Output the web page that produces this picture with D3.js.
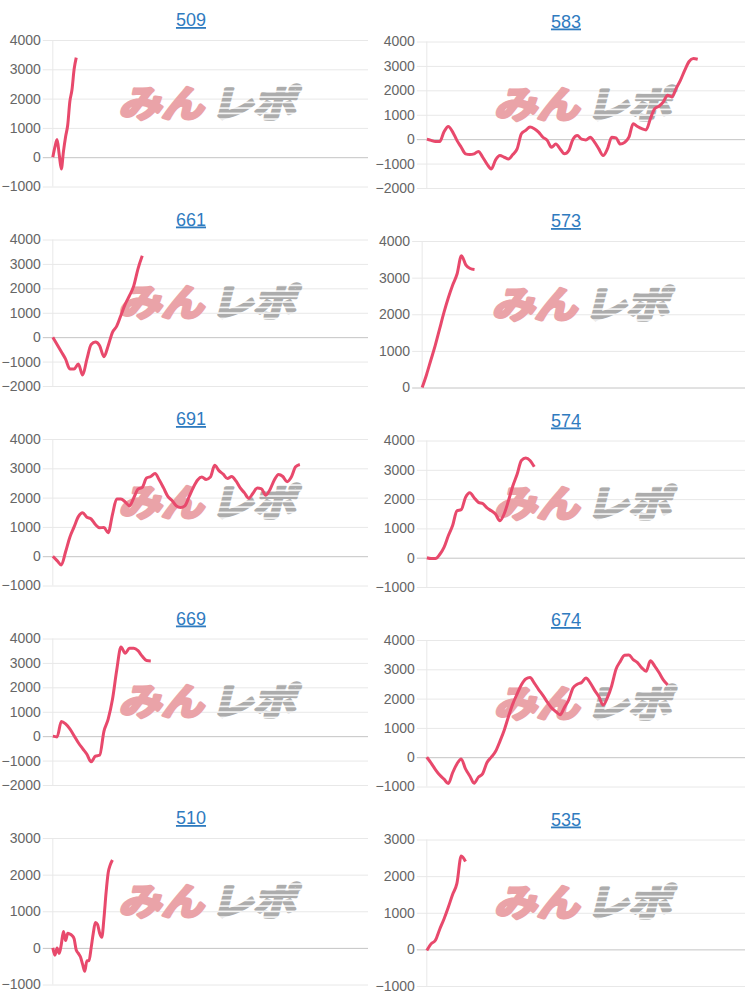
<!DOCTYPE html>
<html><head><meta charset="utf-8">
<script src="https://cdn.jsdelivr.net/npm/d3@7"></script>
<style>body{margin:0;background:#fff;} svg{display:block}</style>
</head><body><svg id="c" width="750" height="996"></svg>
<script>
// ---- data ----
const titles = ["509","583","661","573","691","574","669","674","510","535"];
const yMin = [-1000,-2000,-2000,0,-1000,-1000,-2000,-1000,-1000,-1000];
const yMax = [4000,4000,4000,4000,4000,4000,4000,4000,3000,3000];
const yStep = 1000;
const xSlots = [148,74,74,74,74,74,74,74,148,74];
const s509 = [0,350,600,100,-400,200,700,1100,1900,2300,3000,3400];
const s583 = [0,-50,-100,-100,300,520,300,-50,-330,-600,-630,-600,-500,-740,-1020,-1220,-850,-670,-740,-810,-630,-400,220,360,500,430,290,80,-50,-330,-200,-400,-600,-470,0,150,0,-30,80,-120,-400,-670,-400,80,50,-200,-130,80,630,520,430,380,840,1250,1350,1530,1800,1730,2080,2420,2830,3180,3300,3270];
const s661 = [0,-300,-600,-900,-1300,-1300,-1100,-1550,-900,-300,-200,-350,-800,-350,200,450,900,1350,1700,2100,2800,3330];
const s573 = [0,350,750,1150,1600,2050,2450,2800,3100,3600,3350,3250,3220];
const s691 = [0,-150,-300,150,650,1000,1350,1480,1330,1270,1080,970,980,800,1420,1950,1950,1850,1720,1990,2290,2350,2670,2720,2820,2600,2330,2040,1900,1720,1660,1720,2030,2350,2600,2700,2620,2700,3100,2920,2800,2650,2720,2570,2330,2160,1980,2150,2330,2300,2080,2280,2600,2790,2720,2540,2700,3050,3130];
const s574 = [0,-30,-30,110,350,750,1100,1600,1640,2060,2220,2050,1890,1850,1700,1600,1480,1260,1500,1950,2450,2850,3320,3400,3320,3100];
const s669 = [0,-30,600,500,300,20,-270,-510,-740,-1050,-820,-780,200,700,1500,2700,3650,3400,3600,3600,3500,3270,3100,3080];
const s674 = [0,-200,-420,-610,-750,-900,-530,-230,-60,-400,-640,-890,-680,-560,-180,0,200,540,920,1390,1820,2160,2470,2670,2720,2530,2310,2110,1890,1690,1560,1450,1700,1960,2360,2490,2550,2700,2540,2290,2070,1780,2030,2440,3000,3270,3480,3490,3330,3230,3050,2930,3290,3110,2890,2640,2470];
const s510 = [0,-200,0,-150,100,450,200,400,380,340,250,-60,-150,-250,-450,-640,-350,-350,0,400,690,640,400,290,800,1500,2050,2270,2400];
const s535 = [-30,150,250,550,830,1150,1500,1800,2550,2400];
const series = [s509,s583,s661,s573,s691,s574,s669,s674,s510,s535];

// ---- style / layout ----
const LINE = "#e8496c";
const svg = d3.select("#c");
const defs = svg.append("defs");
const pat = defs.append("pattern").attr("id","stripes").attr("patternUnits","userSpaceOnUse")
  .attr("width",10).attr("height",5.5);
pat.append("rect").attr("width",10).attr("height",5.5).attr("fill","#ffffff");
pat.append("rect").attr("width",10).attr("height",4).attr("fill","#acacac");

const labelFont = "14px 'Liberation Sans', Arial, sans-serif";
const meas = svg.append("text").style("font", labelFont).attr("x",-999).attr("y",-999);
function tw(s){ meas.text(s); return meas.node().getComputedTextLength(); }

titles.forEach((t, k) => {
  const col = k % 2, row = Math.floor(k / 2);
  const data = series[k];
  const ticks = d3.range(yMin[k], yMax[k] + 1, yStep);
  const maxW = d3.max(ticks, v => tw(String(v)));
  const blockLeft = col ? 379 : 5;
  const left = blockLeft + maxW + 12;
  const right = col ? 745 : 368;
  const top = 40 + row * 199.5 + (col ? 1.5 : 0);
  const h = 146.5;
  const x = d3.scaleLinear().domain([0, xSlots[k]]).range([left, right]);
  const y = d3.scaleLinear().domain([yMin[k], yMax[k]]).range([top + h, top]);
  const g = svg.append("g");

  // title
  g.append("text").attr("x", (col ? 375 : 0) + 191).attr("y", top - 14)
    .attr("text-anchor","middle").attr("fill","#2f7bbf")
    .style("font","18px 'Liberation Sans', Arial, sans-serif")
    .style("text-decoration","underline").text(t);

  // gridlines
  const axis = d3.axisLeft(y).tickValues(ticks).tickSize(-(right - left + 10)).tickPadding(2)
    .tickFormat(d3.format("d"));
  const ag = g.append("g").attr("transform", `translate(${left - 10},0)`).call(axis);
  ag.select(".domain").remove();
  ag.selectAll(".tick line").attr("stroke", d => d === 0 ? "#c4c4c4" : "#e8e8e8")
    .attr("x1",0).attr("x2", right - left + 10);
  ag.selectAll(".tick text").attr("x",-2).attr("fill","#666").style("font", labelFont);
  g.append("line").attr("x1",left).attr("x2",left).attr("y1",top).attr("y2",top+h)
    .attr("stroke","#e8e8e8");

  // watermark
  const cx = (left + right) / 2, cy = top + h / 2 - 10;
  const wm = g.append("g").attr("transform", `translate(${cx},${cy}) skewX(-14) scale(1.15,1)`);
  const wf = "700 37px 'Noto Sans CJK JP', sans-serif";
  wm.append("text").attr("x",-3).attr("y",0).attr("dy","0.36em").attr("text-anchor","end")
    .style("font", wf).attr("fill","#eaa3a8").attr("stroke","#eaa3a8")
    .attr("stroke-width",3.2).attr("stroke-linejoin","round").text("みん");
  wm.append("text").attr("x",3).attr("y",0).attr("dy","0.36em").attr("text-anchor","start")
    .style("font", wf).attr("fill","url(#stripes)").attr("stroke","url(#stripes)")
    .attr("stroke-width",3.2).attr("stroke-linejoin","round").text("レポ");

  // line
  const line = d3.line().x((d,i) => x(i)).y(d => y(d)).curve(d3.curveMonotoneX);
  g.append("path").datum(data).attr("d", line).attr("fill","none")
    .attr("stroke", LINE).attr("stroke-width",3).attr("stroke-linejoin","round");
});
meas.remove();
</script></body></html>
